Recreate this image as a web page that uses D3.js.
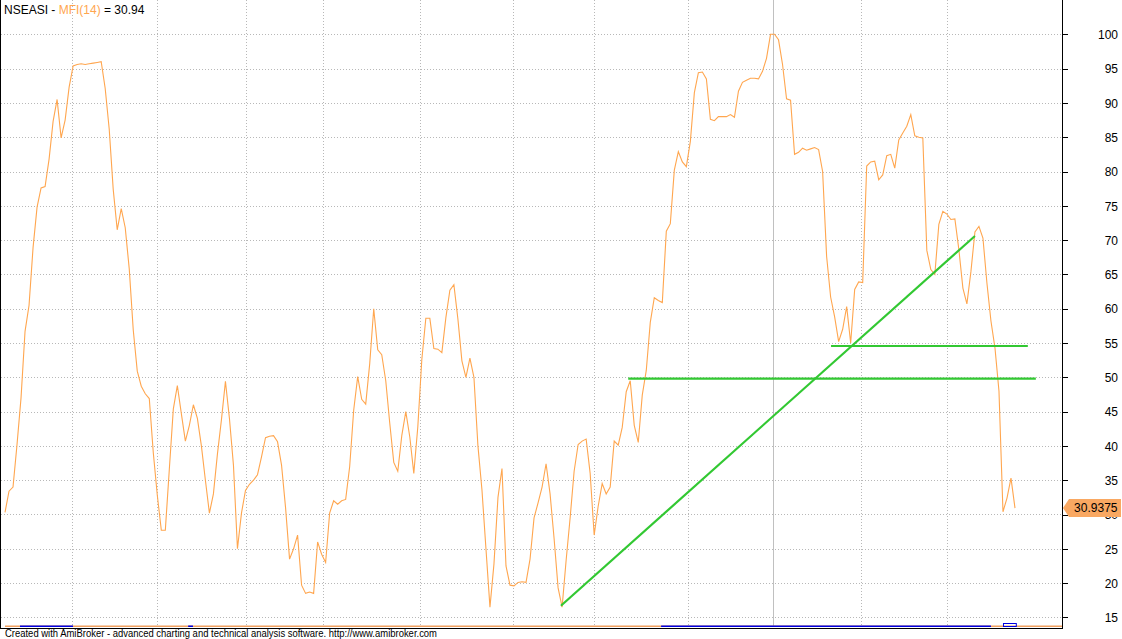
<!DOCTYPE html>
<html>
<head>
<meta charset="utf-8">
<script src="https://cdn.jsdelivr.net/npm/d3@7"></script>
<style>
  html, body { margin: 0; padding: 0; background: #fff; }
  svg { display: block; }
  text { font-family: "Liberation Sans", Arial, sans-serif; }
</style>
</head>
<body>
<svg id="chart" width="1122" height="639"></svg>
<script>
// ---- data ----
const symbol = "NSEASI";
const indicatorName = "MFI(14)";
const lastValueShort = "30.94";
const lastValueLong = "30.9375";
const footerText = "Created with AmiBroker - advanced charting and technical analysis software. http://www.amibroker.com";

// MFI(14) values, one per sampled bar
const mfiValues = [
30.3, 33.4, 34, 40.2, 47, 56.7, 60.5, 68.9, 74.8, 77.6,
77.8, 81.8, 87.3, 90.5, 84.9, 87.5, 92.3, 95.4, 95.6, 95.7,
95.6, 95.7, 95.8, 95.9, 96, 92.1, 86.2, 77.4, 71.5, 74.6,
71.8, 65.8, 56.9, 50.9, 48.7, 47.6, 46.9, 39, 32.8, 27.7,
27.7, 36.6, 45.4, 48.8, 44.7, 40.7, 43, 46, 44, 40,
35, 30.2, 33, 38.8, 43.8, 49.4, 44, 37.2, 25, 30.2,
33.5, 34.4, 35, 35.8, 38.4, 41.2, 41.4, 41.5, 40.6, 37.2,
31, 23.5, 25, 27, 19.7, 18.5, 18.7, 18.5, 26, 24.2,
23, 30.2, 32, 31.5, 32, 32.2, 37, 45.2, 50.1, 46.8,
46.1, 52, 60, 54, 53.3, 49.5, 43.3, 37.6, 36.3, 41.5,
45, 41.3, 36, 42.8, 52.6, 58.6, 58.6, 54.2, 54.1, 53.6,
58.7, 62.7, 63.5, 58.5, 52.4, 50, 52.8, 50, 40, 33.6,
25, 16.5, 22.8, 32.5, 36.7, 22.5, 19.7, 19.6, 20.1, 20.2,
20.1, 23.5, 29.5, 31.7, 34, 37.4, 33, 26.5, 19.3, 16.5,
23.3, 29.5, 36.3, 40.2, 40.7, 41, 36, 27, 31.2, 34.5,
33, 34, 40.7, 40.1, 42.7, 47.9, 49.5, 43, 40.5, 47.4,
51, 58, 61.6, 61.2, 60.9, 71.3, 72.4, 80.2, 82.9, 81.4,
80.7, 84.4, 91.5, 94.4, 94.5, 93.5, 87.6, 87.4, 88, 88,
88, 88.3, 87.9, 91.7, 93, 93.3, 93.6, 93.6, 93.5, 94.6,
96.5, 100, 100, 99.2, 95.6, 90.6, 90.4, 82.5, 82.8, 83.4,
83.1, 83.3, 83.5, 83.2, 80, 67.6, 61.7, 58.8, 55.2, 57,
60.3, 55, 62.8, 63.9, 63.8, 80.8, 81.4, 81.5, 78.8, 79.5,
82.3, 82.5, 80.5, 84.6, 85.6, 86.6, 88.3, 85.2, 85, 84.9,
68.5, 65.7, 65, 72.3, 74.2, 73.8, 73, 73.1, 68.6, 63,
60.7, 65.4, 71.2, 72, 70.3, 63.7, 58.2, 54.3, 48, 30.4,
32.4, 35.3, 30.94
];

// y-axis ticks
const yTicks = [15, 20, 25, 30, 35, 40, 45, 50, 55, 60, 65, 70, 75, 80, 85, 90, 95, 100];

// vertical grid (period boundaries, bar index) and the year separator
const periodStarts = [16.72, 37.93, 60.13, 79.34, 103.55, 126.75, 146.96, 170.41, 213.58, 235.04];
const yearStarts = [191.62];

// user drawn studies: [startBar, startValue, endBar, endValue]
const trendStarts = [[138.7, 16.7], [155.5, 49.8], [206.1, 54.56]];
const trendEnds   = [[242.0, 70.6], [257.2, 49.8], [255.2, 54.56]];

// bottom strip segments (bar index ranges)
const stripBlueFrom = [3.74, 45.7, 163.7];
const stripBlueTo   = [16.97, 46.9, 246.0];
const stripBoxBar = [249.0, 252.2];

// ---- drawing ----
const svg = d3.select("#chart");
const W = 1122, H = 639;
const axisX = 1062, plotBottom = 628;

const x = d3.scaleLinear().domain([0, mfiValues.length - 1]).range([5, 1015]);
const y = d3.scaleLinear().domain([15, 100]).range([617.4, 34.3]);

svg.append("rect").attr("x", 0).attr("y", 0).attr("width", W).attr("height", H).attr("fill", "#fff");

const gridColor = "#b8b8b8";
// horizontal grid
svg.append("g").selectAll("line").data(yTicks).join("line")
  .attr("x1", 1).attr("x2", axisX)
  .attr("y1", d => Math.round(y(d)) + 0.5).attr("y2", d => Math.round(y(d)) + 0.5)
  .attr("stroke", gridColor).attr("stroke-dasharray", "1,2").attr("shape-rendering", "crispEdges");
// vertical grid
svg.append("g").selectAll("line").data(periodStarts).join("line")
  .attr("x1", d => Math.round(x(d)) + 0.5).attr("x2", d => Math.round(x(d)) + 0.5)
  .attr("y1", 0).attr("y2", plotBottom - 2)
  .attr("stroke", gridColor).attr("stroke-dasharray", "1,2").attr("shape-rendering", "crispEdges");
svg.append("g").selectAll("line").data(yearStarts).join("line")
  .attr("x1", d => Math.round(x(d)) + 0.5).attr("x2", d => Math.round(x(d)) + 0.5)
  .attr("y1", 0).attr("y2", plotBottom - 2)
  .attr("stroke", "#c0c0c0").attr("shape-rendering", "crispEdges");

// MFI line
const lineGen = d3.line().x((d, i) => x(i)).y(d => y(d));
svg.append("path").datum(mfiValues)
  .attr("d", lineGen)
  .attr("fill", "none").attr("stroke", "#ffa64f").attr("stroke-width", 1.1);

// trend lines
svg.append("g").selectAll("line").data(trendStarts.map((s, i) => [s, trendEnds[i]])).join("line")
  .attr("x1", d => x(d[0][0])).attr("y1", d => y(d[0][1]))
  .attr("x2", d => x(d[1][0])).attr("y2", d => y(d[1][1]))
  .attr("stroke", "#32c832").attr("stroke-width", 2.2);

// bottom strip
svg.append("rect").attr("x", 5).attr("y", 625.5).attr("width", axisX - 5).attr("height", 1.5).attr("fill", "#f0a060");
svg.append("g").selectAll("rect").data(stripBlueFrom).join("rect")
  .attr("x", d => x(d)).attr("y", 625.5)
  .attr("width", (d, i) => x(stripBlueTo[i]) - x(d)).attr("height", 1.5)
  .attr("fill", "#0000e0");
svg.append("rect")
  .attr("x", x(stripBoxBar[0]) + 0.5).attr("y", 623.5)
  .attr("width", x(stripBoxBar[1]) - x(stripBoxBar[0])).attr("height", 3)
  .attr("fill", "none").attr("stroke", "#0000e0").attr("stroke-width", 1);

// frame
svg.append("line").attr("x1", 0.5).attr("x2", 0.5).attr("y1", 0).attr("y2", plotBottom + 1)
  .attr("stroke", "#000").attr("shape-rendering", "crispEdges");
svg.append("line").attr("x1", 0).attr("x2", axisX + 1).attr("y1", plotBottom + 0.5).attr("y2", plotBottom + 0.5)
  .attr("stroke", "#000").attr("shape-rendering", "crispEdges");
svg.append("line").attr("x1", axisX + 0.5).attr("x2", axisX + 0.5).attr("y1", 0).attr("y2", plotBottom + 1)
  .attr("stroke", "#000").attr("shape-rendering", "crispEdges");

// right axis
const axis = d3.axisRight(y).tickValues(yTicks).tickSize(5).tickPadding(0).tickFormat(d3.format("d"));
const gAxis = svg.append("g").attr("transform", `translate(${axisX + 0.5},0)`).call(axis);
gAxis.select(".domain").remove();
gAxis.selectAll(".tick line").attr("stroke", "#000").attr("shape-rendering", "crispEdges");
gAxis.selectAll(".tick text")
  .attr("x", 55.5).attr("text-anchor", "end").attr("dy", "0.35em")
  .attr("fill", "#000").style("font-size", "12px").style("font-family", "'Liberation Sans', Arial, sans-serif");

// last value marker
const lastY = y(mfiValues[mfiValues.length - 1]);
svg.append("path")
  .attr("d", `M${axisX + 1},${lastY} L${axisX + 7},${lastY - 9} L1121,${lastY - 9} L1121,${lastY + 9} L${axisX + 7},${lastY + 9} Z`)
  .attr("fill", "#f9a862");
svg.append("text").attr("x", 1117.5).attr("y", lastY).attr("dy", "0.36em")
  .attr("text-anchor", "end").attr("fill", "#000").style("font-size", "12px")
  .text(lastValueLong);

// title
const title = svg.append("text").attr("x", 4).attr("y", 14).style("font-size", "12px");
title.append("tspan").attr("fill", "#000").text(symbol + " - ");
title.append("tspan").attr("fill", "#ffa64f").text(indicatorName);
title.append("tspan").attr("fill", "#000").text(" = " + lastValueShort);

// footer
svg.append("text").attr("x", 5).attr("y", 637).attr("fill", "#000")
  .style("font-size", "10.5px")
  .attr("textLength", 432).attr("lengthAdjust", "spacingAndGlyphs")
  .text(footerText);
</script>
</body>
</html>
